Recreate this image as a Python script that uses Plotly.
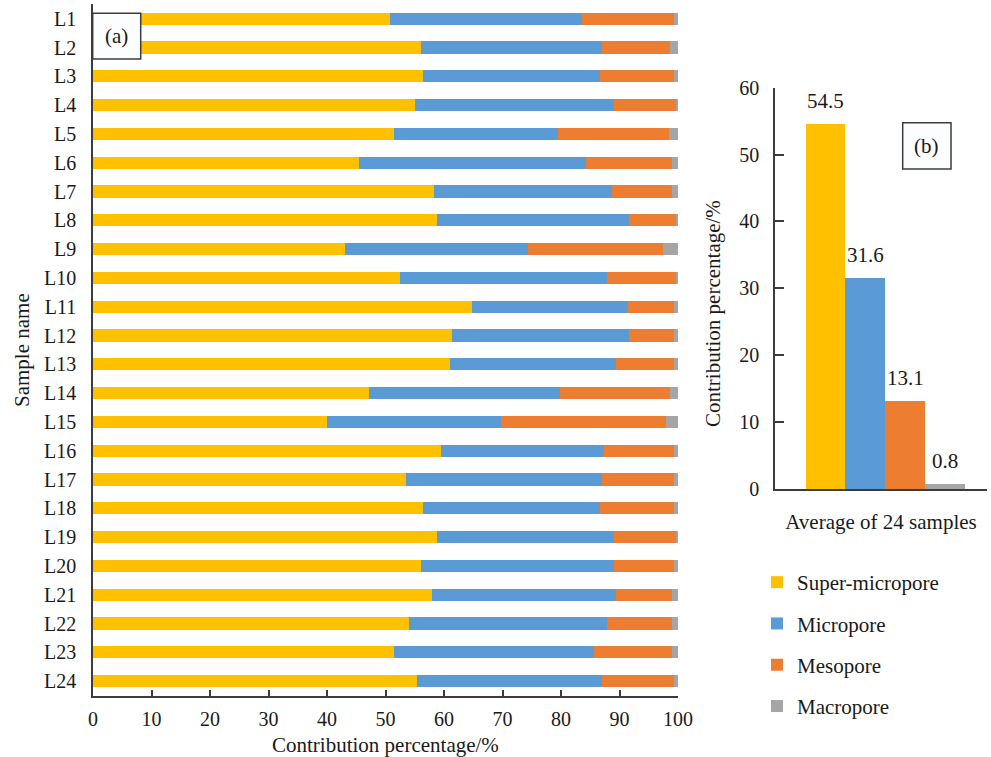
import plotly.graph_objects as go

# ---- data -------------------------------------------------------------
samples = [f"L{i}" for i in range(1, 25)]

super_micropore = [50.8, 56.0, 56.4, 55.1, 51.5, 45.5, 58.3, 58.8, 43.1, 52.4, 64.7, 61.3,
                   61.0, 47.1, 40.0, 59.5, 53.5, 56.4, 58.8, 56.0, 57.9, 54.1, 51.5, 55.4]
micropore = [32.8, 31.0, 30.3, 34.0, 28.0, 38.7, 30.5, 32.8, 31.2, 35.5, 26.7, 30.3,
             28.4, 32.7, 29.7, 27.8, 33.5, 30.3, 30.3, 33.1, 31.5, 33.8, 34.2, 31.6]
mesopore = [15.8, 11.7, 12.7, 10.6, 18.9, 14.8, 10.2, 8.1, 23.2, 11.8, 8.0, 7.8,
            10.0, 18.9, 28.2, 12.1, 12.4, 12.7, 10.6, 10.3, 9.6, 11.1, 13.3, 12.4]
macropore = [0.6, 1.3, 0.6, 0.3, 1.6, 1.0, 1.0, 0.3, 2.5, 0.3, 0.6, 0.6,
             0.6, 1.3, 2.1, 0.6, 0.6, 0.6, 0.3, 0.6, 1.0, 1.0, 1.0, 0.6]

pore_types = ["Super-micropore", "Micropore", "Mesopore", "Macropore"]
average_values = [54.5, 31.6, 13.1, 0.8]
average_label = "Average of 24 samples"

x_ticks = list(range(0, 101, 10))
y2_ticks = list(range(0, 61, 10))

# ---- styling ----------------------------------------------------------
W, H = 991, 757
FONT = "Liberation Serif"
TXT = "#1a1a1a"
AX = "#3c3c3c"
colors = ["#FFC000", "#5B9BD5", "#ED7D31", "#A5A5A5"]
tick_font = dict(family=FONT, size=20, color=TXT)
text_font = dict(family=FONT, size=21, color=TXT)


def px_x(p):
    return p / W


def px_y(p):
    return 1 - p / H


fig = go.Figure()

# (a) stacked horizontal bars per sample
series = [super_micropore, micropore, mesopore, macropore]
for i, (name, vals, col) in enumerate(zip(pore_types, series, colors)):
    fig.add_trace(go.Bar(
        y=samples, x=vals, name=name, orientation="h",
        marker=dict(color=col, line=dict(width=0)),
        width=0.43, xaxis="x", yaxis="y", showlegend=True, legendgroup=f"g{i}",
    ))

# (b) averages as side-by-side columns in a single category
bar_w = 0.1873
left = -0.355
for i, (name, val, col) in enumerate(zip(pore_types, average_values, colors)):
    off = left + i * bar_w
    fig.add_trace(go.Bar(
        x=[average_label], y=[val], base=0, name=name,
        marker=dict(color=col, line=dict(width=0)),
        offset=off, width=bar_w, xaxis="x2", yaxis="y2",
        showlegend=False, legendgroup=f"g{i}",
    ))
    fig.add_annotation(
        x=off + bar_w / 2, y=val, xref="x2", yref="y2", text=f"{val}",
        showarrow=False, yanchor="bottom", yshift=9, font=text_font,
    )

fig.update_layout(
    width=W, height=H,
    margin=dict(l=0, r=0, t=0, b=0, autoexpand=False),
    paper_bgcolor="white", plot_bgcolor="white",
    barmode="stack",
    font=tick_font,
    xaxis=dict(
        domain=[px_x(93), px_x(678)], range=[0, 100],
        tickvals=x_ticks, ticks="inside", ticklen=6, tickwidth=1.5, tickcolor=AX,
        showline=True, linecolor=AX, linewidth=1.5, showgrid=False, zeroline=False,
        tickfont=tick_font, ticklabelstandoff=5, automargin=False, anchor="y",
    ),
    yaxis=dict(
        domain=[px_y(695.5), px_y(4.3)], type="category",
        categoryorder="array", categoryarray=samples, range=[23.5, -0.5],
        showline=True, linecolor=AX, linewidth=1.5, ticks="", showgrid=False,
        tickfont=tick_font, ticklabelstandoff=11, automargin=False, anchor="x",
    ),
    xaxis2=dict(
        domain=[px_x(775), px_x(987)], type="category", range=[-0.5, 0.5],
        showline=True, linecolor=AX, linewidth=1.5, ticks="", showgrid=False,
        tickfont=text_font, ticklabelstandoff=13, automargin=False, anchor="y2",
    ),
    yaxis2=dict(
        domain=[px_y(489), px_y(87.7)], range=[0, 60], tickvals=y2_ticks,
        ticks="inside", ticklen=9, tickwidth=1.5, tickcolor=AX,
        showline=True, linecolor=AX, linewidth=1.5, showgrid=False, zeroline=False,
        tickfont=tick_font, ticklabelstandoff=10, automargin=False, anchor="x2",
    ),
    legend=dict(
        x=px_x(757), y=px_y(562), xanchor="left", yanchor="top",
        traceorder="grouped", tracegroupgap=11, font=text_font,
        bgcolor="rgba(0,0,0,0)", itemclick=False,
    ),
)

# axis titles
titles = [
    ("Contribution percentage/%", 385.5, 745, 0),
    ("Sample name", 22, 350, -90),
    ("Contribution percentage/%", 713, 314, -90),
]
for text, x, y, ang in titles:
    fig.add_annotation(
        x=px_x(x), y=px_y(y), xref="paper", yref="paper", text=text,
        textangle=ang, showarrow=False, font=text_font,
        xanchor="center", yanchor="middle",
    )

# panel labels in framed boxes
for label, (x0, y0, x1, y1) in {"(a)": (92.7, 13.3, 140.7, 59.0),
                                "(b)": (902.7, 122.7, 951.0, 169.0)}.items():
    fig.add_shape(
        type="rect", xref="paper", yref="paper",
        x0=px_x(x0), x1=px_x(x1), y0=px_y(y1), y1=px_y(y0),
        line=dict(color=AX, width=1.5), fillcolor="#fbfdfe", layer="above",
    )
    fig.add_annotation(
        x=px_x((x0 + x1) / 2), y=px_y((y0 + y1) / 2), xref="paper", yref="paper",
        text=label, showarrow=False, font=text_font,
        xanchor="center", yanchor="middle",
    )

fig.write_html("out.html")
